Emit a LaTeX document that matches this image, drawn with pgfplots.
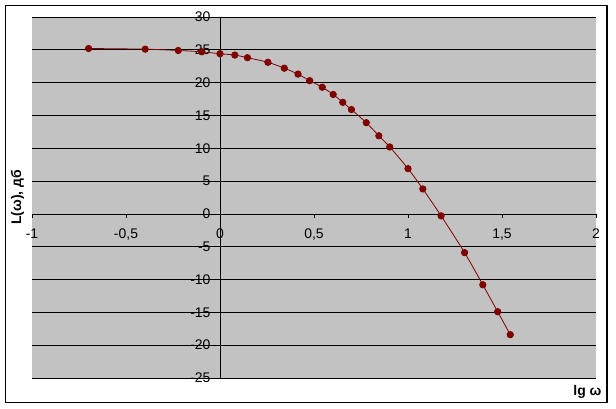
\documentclass[border=0pt]{standalone}
\usepackage{pgfplots}
\pgfplotsset{compat=1.18}
\usepackage{fontspec}
\setmainfont{Liberation Sans}
\definecolor{dred}{RGB}{128,0,0}
\definecolor{plotbg}{RGB}{194,194,194}
\begin{document}
\begin{tikzpicture}
\useasboundingbox (0bp,0bp) rectangle (616bp,409bp);
\fill[white] (0bp,0bp) rectangle (616bp,409bp);
\draw[line width=1.5bp] (5.5bp,6.5bp) rectangle (607bp,403.5bp);
\begin{axis}[
  at={(32bp,31bp)}, anchor=south west,
  scale only axis, width=564bp, height=361bp,
  xmin=-1, xmax=2, ymin=-25, ymax=30,
  axis lines=middle, axis line style={-, black, line width=0.8bp},
  hide obscured x ticks=false, hide obscured y ticks=false,
  xtick={-1,-0.5,0,0.5,1,1.5,2},
  ytick={-25,-20,-15,-10,-5,0,5,10,15,20,25,30},
  minor tick num=0,
  tick align=outside, major tick length=4bp,
  tick style={black, line width=0.8bp},
  ymajorgrids, grid style={black, line width=0.8bp},
  axis background/.style={fill=plotbg},
  /pgf/number format/.cd, use comma, assume math mode=true,
  /pgfplots/.cd,
  tick label style={font=\fontsize{14}{16}\selectfont},
  xticklabel style={anchor=north, yshift=-7bp},
  yticklabel style={anchor=east, xshift=-2bp},
  xlabel={lg ω}, ylabel={L(ω), дб},
  every axis x label/.style={at={(axis description cs:1,0)}, anchor=east, xshift=9bp, yshift=-14bp, font=\fontsize{14}{16}\selectfont\bfseries},
  every axis y label/.style={at={(axis description cs:-0.0257,0.5)}, rotate=90, anchor=center, font=\fontsize{14}{16}\selectfont\bfseries},
]
\addplot[color=dred, line width=0.8bp, smooth, mark=*, mark size=3.2bp, mark options={fill=dred, draw=dred}] table {
x y
-0.699 25.2
-0.398 25.1
-0.222 24.9
-0.097 24.7
0.000 24.4
0.079 24.2
0.146 23.8
0.255 23.1
0.342 22.2
0.415 21.3
0.477 20.3
0.544 19.3
0.602 18.2
0.653 17.0
0.699 15.9
0.778 13.9
0.845 11.9
0.903 10.2
1.000 6.9
1.079 3.8
1.176 -0.3
1.301 -5.9
1.398 -10.8
1.477 -14.9
1.544 -18.4
};
\end{axis}
\end{tikzpicture}
\end{document}
